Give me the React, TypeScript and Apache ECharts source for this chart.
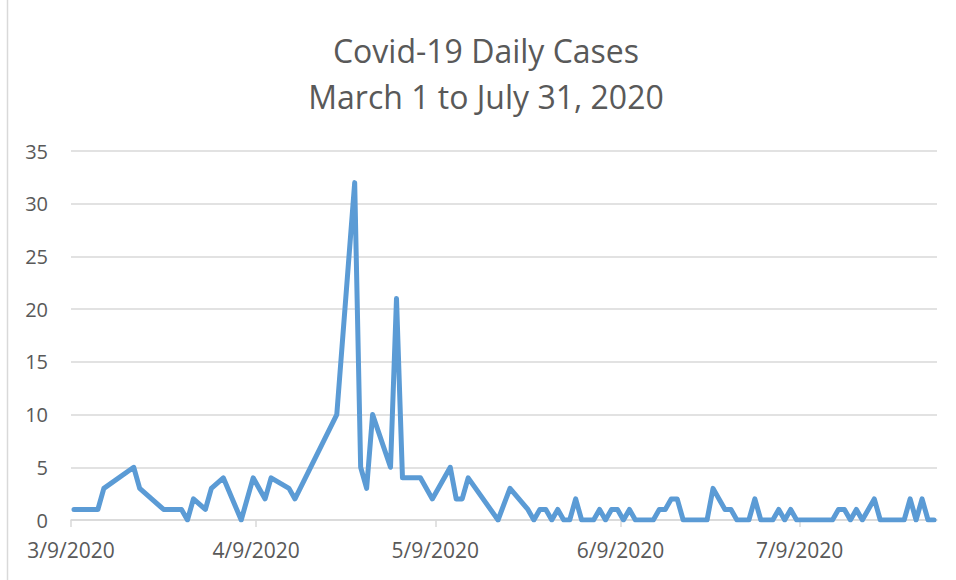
import React, { useEffect, useRef } from "react";
import * as echarts from "echarts";

// Reported dates (M/D/YYYY) and daily case counts
const dates: string[] = [
  "3/9/2020", "3/13/2020", "3/14/2020", "3/19/2020", "3/20/2020", "3/24/2020", "3/27/2020", "3/28/2020",
  "3/29/2020", "3/31/2020", "4/1/2020", "4/3/2020", "4/6/2020", "4/8/2020", "4/10/2020", "4/11/2020",
  "4/14/2020", "4/15/2020", "4/22/2020", "4/25/2020", "4/26/2020", "4/27/2020", "4/28/2020", "5/1/2020",
  "5/2/2020", "5/3/2020", "5/6/2020", "5/8/2020", "5/11/2020", "5/12/2020", "5/13/2020", "5/14/2020",
  "5/19/2020", "5/21/2020", "5/24/2020", "5/25/2020", "5/26/2020", "5/27/2020", "5/28/2020", "5/29/2020",
  "5/30/2020", "5/31/2020", "6/1/2020", "6/2/2020", "6/4/2020", "6/5/2020", "6/6/2020", "6/7/2020",
  "6/8/2020", "6/9/2020", "6/10/2020", "6/11/2020", "6/14/2020", "6/15/2020", "6/16/2020", "6/17/2020",
  "6/18/2020", "6/19/2020", "6/23/2020", "6/24/2020", "6/25/2020", "6/26/2020", "6/27/2020", "6/28/2020",
  "6/30/2020", "7/1/2020", "7/2/2020", "7/4/2020", "7/5/2020", "7/6/2020", "7/7/2020", "7/8/2020",
  "7/14/2020", "7/15/2020", "7/16/2020", "7/17/2020", "7/18/2020", "7/19/2020", "7/20/2020", "7/21/2020",
  "7/22/2020", "7/26/2020", "7/27/2020", "7/28/2020", "7/29/2020", "7/30/2020", "7/31/2020",
];

const cases: number[] = [
  1, 1, 3, 5, 3, 1, 1, 0,
  2, 1, 3, 4, 0, 4, 2, 4,
  3, 2, 10, 32, 5, 3, 10, 5,
  21, 4, 4, 2, 5, 2, 2, 4,
  0, 3, 1, 0, 1, 1, 0, 1,
  0, 0, 2, 0, 0, 1, 0, 1,
  1, 0, 1, 0, 0, 1, 1, 2,
  2, 0, 0, 3, 2, 1, 1, 0,
  0, 2, 0, 0, 1, 0, 1, 0,
  0, 1, 1, 0, 1, 0, 1, 2,
  0, 0, 2, 0, 2, 0, 0,
];

const xTickLabels: string[] = ["3/9/2020", "4/9/2020", "5/9/2020", "6/9/2020", "7/9/2020"];
const axisStart = "3/9/2020";
const axisEnd = "8/1/2020";
const yMin = 0;
const yMax = 35;
const yStep = 5;

const titleLines: string[] = ["Covid-19 Daily Cases", "March 1 to July 31, 2020"];

function dayNumber(s: string): number {
  const [m, d, y] = s.split("/").map(Number);
  return Date.UTC(y, m - 1, d) / 86400000;
}

const FONT = "'Open Sans', 'Noto Sans', sans-serif";
const TEXT_COLOR = "#595959";
const GRID_COLOR = "#d9d9d9";

export default function App() {
  const ref = useRef<HTMLDivElement>(null);

  useEffect(() => {
    if (!ref.current) return;
    const chart = echarts.init(ref.current, undefined, { renderer: "svg" });
    const start = dayNumber(axisStart);
    const end = dayNumber(axisEnd);
    // Excel date axis places each day's point in the middle of its day slot
    const seriesData = dates.map((d, i) => [dayNumber(d) - start + 0.5, cases[i]]);
    const tickValues = xTickLabels.map((l) => dayNumber(l) - start);
    const labelByValue: Record<string, string> = {};
    tickValues.forEach((v, i) => (labelByValue[String(v)] = xTickLabels[i]));

    chart.setOption({
      animation: false,
      backgroundColor: "#ffffff",
      title: {
        text: titleLines.join("\n"),
        left: 486,
        top: 27,
        padding: 0,
        textAlign: "center",
        textStyle: {
          fontFamily: FONT,
          fontSize: 32,
          fontWeight: "normal",
          color: TEXT_COLOR,
          lineHeight: 46,
        },
      },
      grid: { left: 71, right: 19, top: 151, bottom: 60, containLabel: false },
      xAxis: {
        type: "value",
        min: 0,
        max: end - start,
        axisLine: { show: true, lineStyle: { color: GRID_COLOR, width: 1.5 } },
        axisTick: {
          show: true,
          customValues: tickValues,
          length: 7,
          lineStyle: { color: GRID_COLOR, width: 1.5 },
        },
        axisLabel: {
          customValues: tickValues,
          formatter: (v: number) => labelByValue[String(v)] ?? "",
          fontFamily: FONT,
          fontSize: 21,
          color: TEXT_COLOR,
          margin: 19,
        },
        splitLine: { show: false },
      },
      yAxis: {
        type: "value",
        min: yMin,
        max: yMax,
        interval: yStep,
        axisLine: { show: false },
        axisTick: { show: false },
        axisLabel: {
          fontFamily: FONT,
          fontSize: 20,
          color: TEXT_COLOR,
          margin: 23,
        },
        splitLine: { show: true, lineStyle: { color: GRID_COLOR, width: 1.5 } },
      },
      graphic: [
        {
          type: "line",
          shape: { x1: 7.5, y1: 0, x2: 7.5, y2: 580 },
          style: { stroke: GRID_COLOR, lineWidth: 1.5 },
          silent: true,
        },
      ],
      series: [
        {
          type: "line",
          data: seriesData,
          showSymbol: false,
          symbol: "none",
          lineStyle: { color: "#5b9bd5", width: 5, cap: "round", join: "round" },
          itemStyle: { color: "#5b9bd5" },
        },
      ],
    });
    return () => chart.dispose();
  }, []);

  return (
    <div
      ref={ref}
      style={{ position: "absolute", left: 0, top: 0, width: 956, height: 580, background: "#fff" }}
    />
  );
}
